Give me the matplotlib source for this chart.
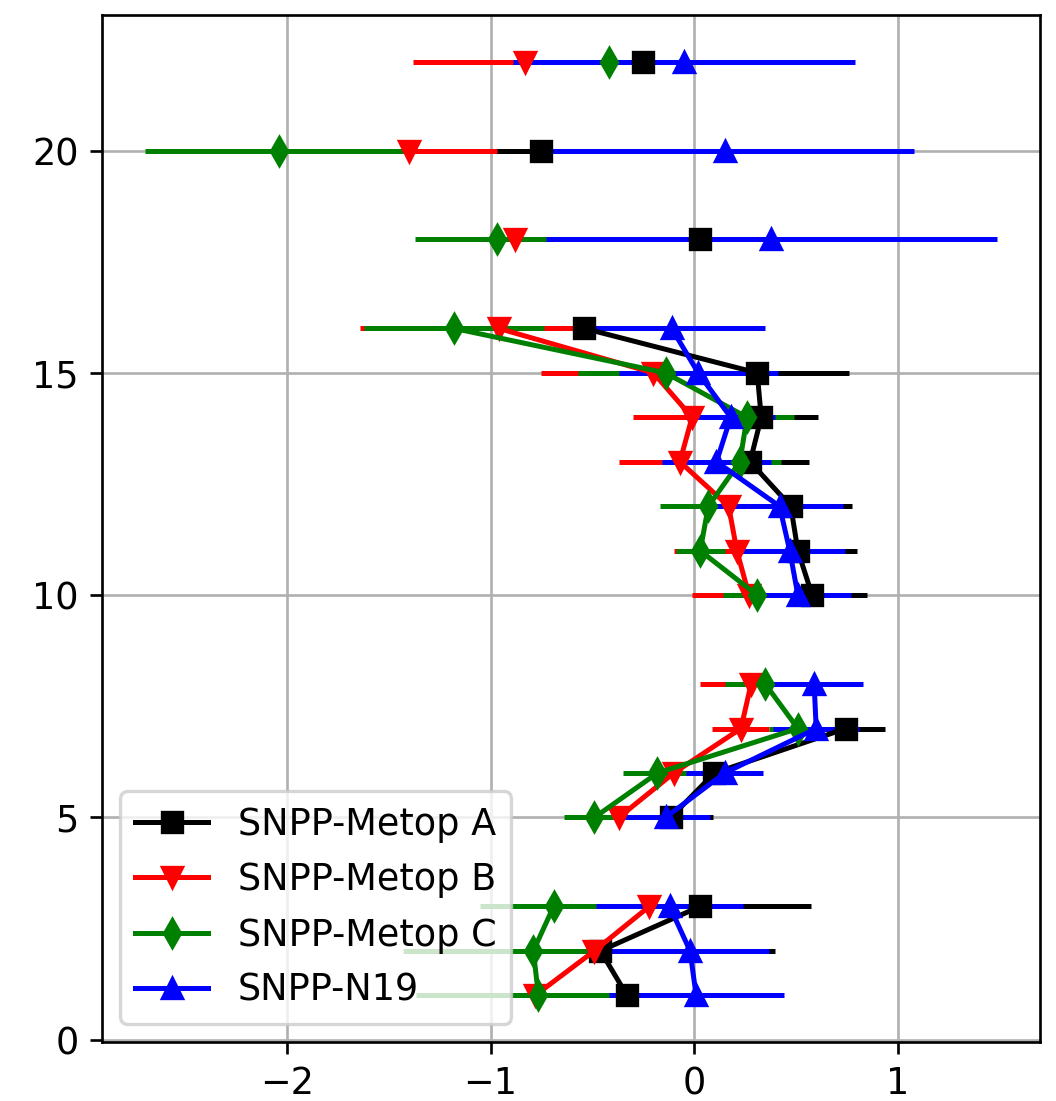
import numpy as np
import matplotlib
matplotlib.use("Agg")
import matplotlib.pyplot as plt

plt.rcParams['font.size'] = 11

nan = np.nan
channels = np.arange(1, 23)

# SNPP - Metop A
bias_a = [-0.33, -0.46, 0.03, nan, -0.115, 0.10, 0.745, nan, nan, 0.58, 0.51,
          0.475, 0.275, 0.33, 0.31, -0.54, nan, 0.03, nan, -0.75, nan, -0.25]
std_a = [0.4, 0.86, 0.545, nan, 0.21, 0.2, 0.195, nan, nan, 0.27, 0.29,
         0.3, 0.29, 0.28, 0.45, 0.4, nan, 0.5, nan, 0.3, nan, 0.3]

# SNPP - Metop B
bias_b = [-0.78, -0.49, -0.22, nan, -0.37, -0.10, 0.23, 0.28, nan, 0.27, 0.21,
          0.17, -0.07, -0.01, -0.20, -0.96, nan, -0.88, nan, -1.40, nan, -0.83]
std_b = [0.4, 0.3, 0.2, nan, 0.12, 0.2, 0.14, 0.25, nan, 0.28, 0.31,
         0.25, 0.30, 0.29, 0.55, 0.68, nan, 0.3, nan, 0.43, nan, 0.55]

# SNPP - Metop C
bias_c = [-0.765, -0.79, -0.69, nan, -0.49, -0.18, 0.51, 0.35, nan, 0.31, 0.03,
          0.07, 0.225, 0.26, -0.14, -1.18, nan, -0.97, nan, -2.04, nan, -0.42]
std_c = [0.6, 0.64, 0.36, nan, 0.15, 0.17, 0.14, 0.2, nan, 0.17, 0.12,
         0.24, 0.2, 0.23, 0.43, 0.44, nan, 0.40, nan, 0.66, nan, 0.4]

# SNPP - N19
bias_n19 = [0.01, -0.02, -0.12, nan, -0.14, 0.15, 0.60, 0.59, nan, 0.51, 0.47,
            0.42, 0.11, 0.18, 0.02, -0.11, nan, 0.38, nan, 0.15, nan, -0.05]
std_n19 = [0.43, 0.39, 0.36, nan, 0.22, 0.19, 0.21, 0.24, nan, 0.26, 0.27,
           0.31, 0.27, 0.22, 0.39, 0.46, nan, 1.11, nan, 0.93, nan, 0.84]

fig = plt.figure(figsize=(1056 / 240, 1101 / 240), dpi=240)
ax = fig.add_axes([0.0966, 0.0536, 0.9848 - 0.0966, 0.9864 - 0.0536])

ax.errorbar(bias_a, channels, xerr=std_a, fmt='k-s', label='SNPP-Metop A')
ax.errorbar(bias_b, channels, xerr=std_b, fmt='r-v', label='SNPP-Metop B')
ax.errorbar(bias_c, channels, xerr=std_c, fmt='g-d', label='SNPP-Metop C')
ax.errorbar(bias_n19, channels, xerr=std_n19, fmt='b-^', label='SNPP-N19')

ax.grid(True)
ax.legend(loc='lower left')

fig.savefig('out.png', dpi=240)
